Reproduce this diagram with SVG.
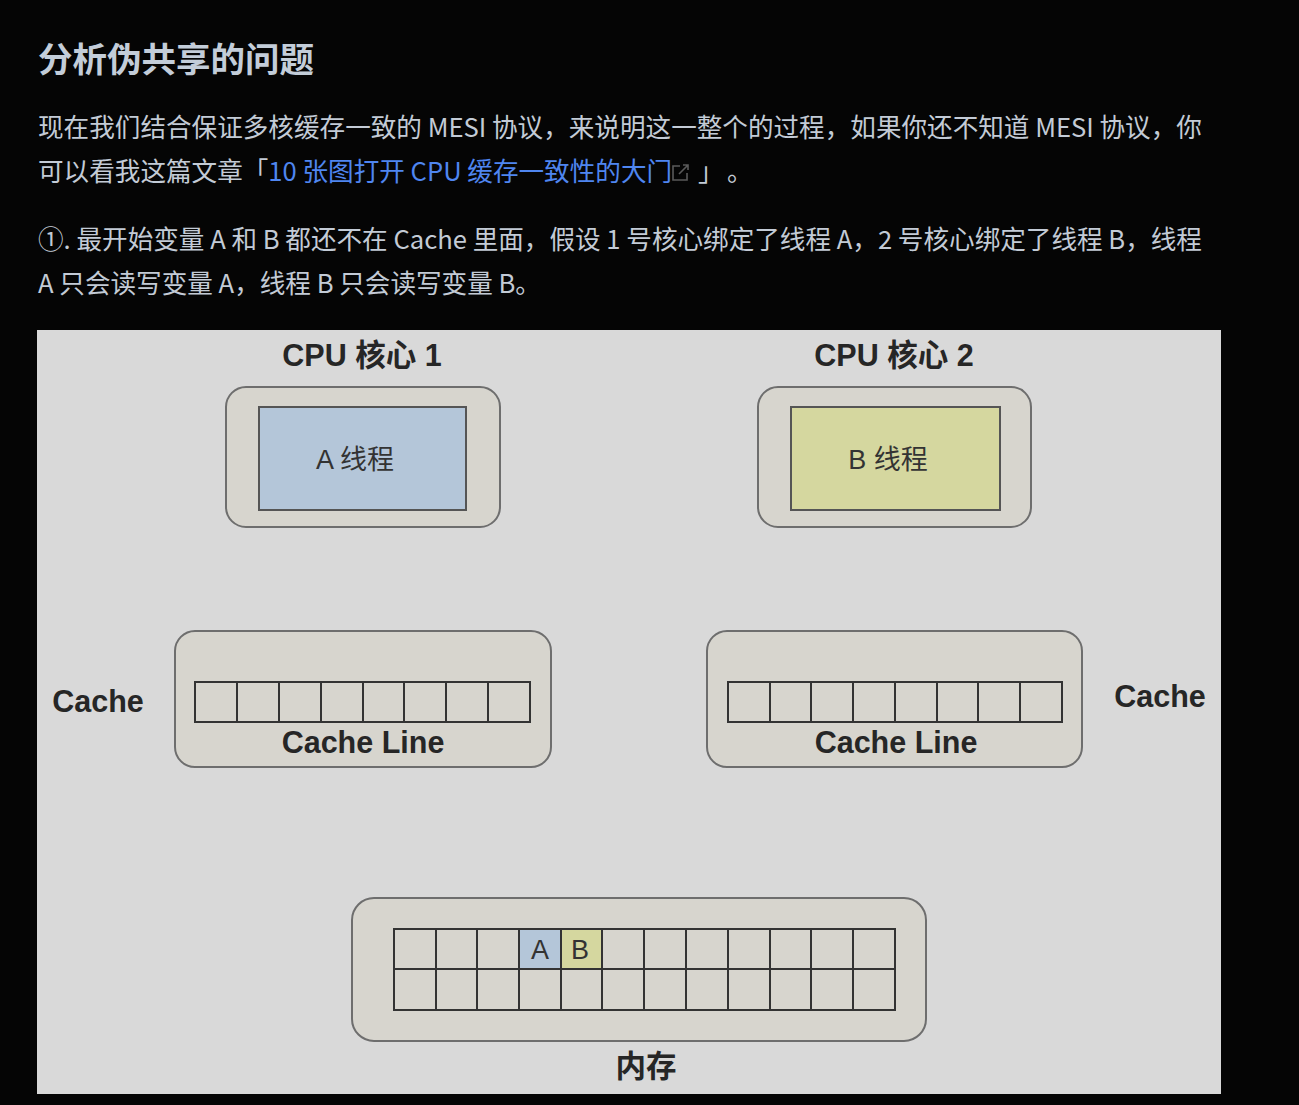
<svg xmlns="http://www.w3.org/2000/svg" width="1299" height="1105" viewBox="0 0 1299 1105">
<style>
.txt{font-family:"Noto Sans CJK SC","Noto Sans",sans-serif;font-size:25.6px;fill:#c3cbd6}
.title{font-family:"Noto Sans CJK SC","Noto Sans",sans-serif;font-size:34.5px;font-weight:bold;fill:#c3cdd9}
.link{fill:#4f86f0}
.lbl{font-family:"Liberation Sans","Noto Sans CJK SC",sans-serif;font-size:30.5px;font-weight:bold;fill:#262626}
.in{font-family:"Liberation Sans","Noto Sans CJK SC",sans-serif;font-size:27px;fill:#333}
.outer{fill:#d7d5ce;stroke:#6e6e6e;stroke-width:2}
.cell{fill:none;stroke:#333;stroke-width:2}
</style>
<rect x="0" y="0" width="1299" height="1105" fill="#050505"/>
<text class="title" x="38" y="72">分析伪共享的问题</text>
<text class="txt" x="38" y="137">现在我们结合保证多核缓存一致的 MESI 协议，来说明这一整个的过程，如果你还不知道 MESI 协议，你</text>
<text class="txt" x="38" y="181">可以看我这篇文章「<tspan class="link">10 张图打开 CPU 缓存一致性的大门</tspan></text>
<g id="link-icon" fill="none" stroke="#5a5a5a" stroke-width="1.6">
<path d="M680 166 H673 V180 H687 V173"/>
<path d="M679 174 L688 165 M683 165 H688 V170"/>
</g>
<text class="txt" x="698" y="181">」</text>
<text class="txt" x="727" y="181">。</text>
<text class="txt" x="38" y="249">①. 最开始变量 A 和 B 都还不在 Cache 里面，假设 1 号核心绑定了线程 A，2 号核心绑定了线程 B，线程</text>
<text class="txt" x="38" y="293">A 只会读写变量 A，线程 B 只会读写变量 B。</text>
<rect id="panel" x="37" y="330" width="1184" height="764" fill="#d9d9d9"/>
<g id="core1">
<text class="lbl" x="362" y="366" text-anchor="middle">CPU 核心 1</text>
<rect class="outer" x="226" y="387" width="274" height="140" rx="20"/>
<rect x="259" y="407" width="207" height="103" fill="#b4c6d9" stroke="#555" stroke-width="2"/>
<text class="in" x="355" y="469" text-anchor="middle">A 线程</text>
</g>
<g id="core2">
<text class="lbl" x="894" y="366" text-anchor="middle">CPU 核心 2</text>
<rect class="outer" x="758" y="387" width="273" height="140" rx="20"/>
<rect x="791" y="407" width="209" height="103" fill="#d5d79f" stroke="#555" stroke-width="2"/>
<text class="in" x="888" y="469" text-anchor="middle">B 线程</text>
</g>
<g id="cache1">
<text class="lbl" x="98" y="712" text-anchor="middle">Cache</text>
<rect class="outer" x="175" y="631" width="376" height="136" rx="20"/>
<rect class="cell" x="195" y="682" width="335" height="40"/>
<path class="cell" d="M237 682V722M279 682V722M321 682V722M363 682V722M404 682V722M446 682V722M488 682V722"/>
<text class="lbl" x="363" y="753" text-anchor="middle">Cache Line</text>
</g>
<g id="cache2">
<text class="lbl" x="1160" y="707" text-anchor="middle">Cache</text>
<rect class="outer" x="707" y="631" width="375" height="136" rx="20"/>
<rect class="cell" x="728" y="682" width="334" height="40"/>
<path class="cell" d="M770 682V722M811 682V722M853 682V722M895 682V722M937 682V722M978 682V722M1020 682V722"/>
<text class="lbl" x="896" y="753" text-anchor="middle">Cache Line</text>
</g>
<g id="memory">
<rect class="outer" x="352" y="898" width="574" height="143" rx="22"/>
<rect x="519" y="929" width="42" height="40" fill="#b4c6d9"/>
<rect x="561" y="929" width="41" height="40" fill="#d5d79f"/>
<rect class="cell" x="394" y="929" width="501" height="81"/>
<path class="cell" d="M394 969H895M436 929V1010M477 929V1010M519 929V1010M561 929V1010M602 929V1010M644 929V1010M686 929V1010M728 929V1010M770 929V1010M811 929V1010M853 929V1010"/>
<text class="in" x="540" y="959" text-anchor="middle">A</text>
<text class="in" x="580" y="959" text-anchor="middle">B</text>
<text class="lbl" x="646" y="1077" text-anchor="middle">内存</text>
</g>
</svg>
